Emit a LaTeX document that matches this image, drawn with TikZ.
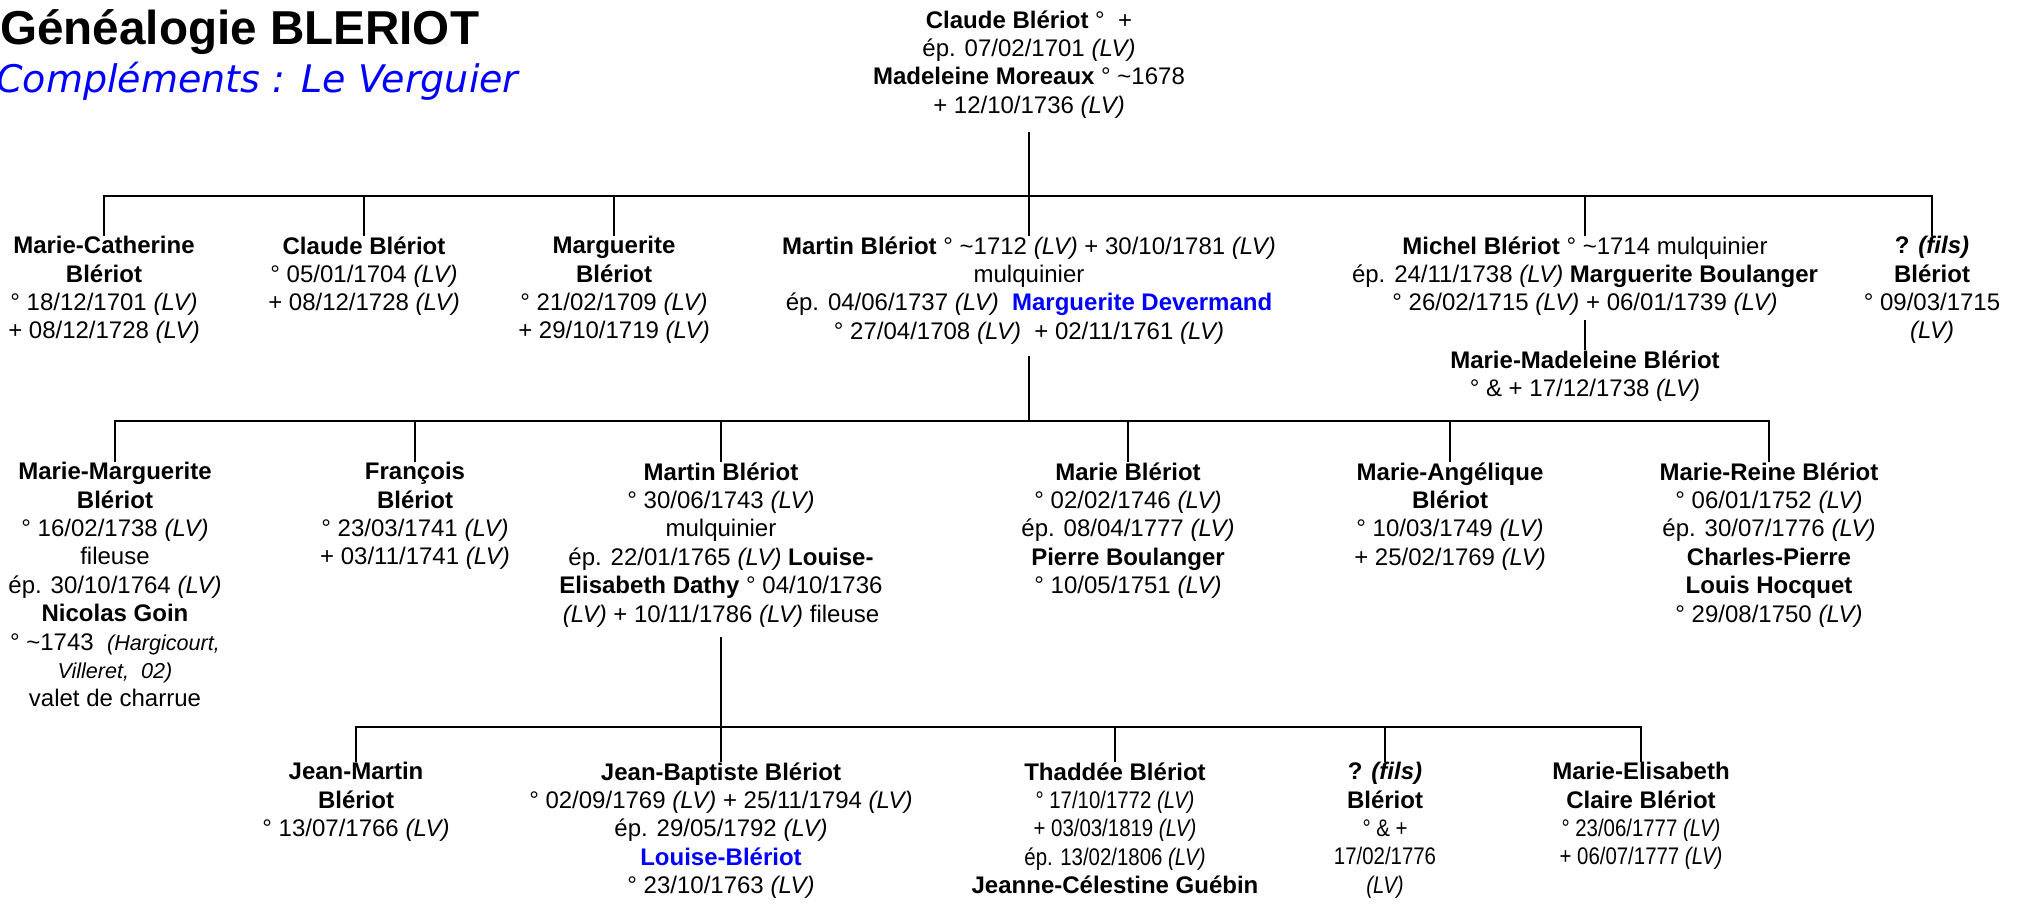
\documentclass[tikz,border=0pt]{standalone}
\usepackage{fontspec}
\usepackage{xcolor}
\usepackage{tikz}
\setmainfont{Liberation Sans}
\newfontfamily\etroitfont[FakeStretch=0.85]{Liberation Sans}
\newfontfamily\verdanafont{DejaVu Sans}
\newcommand{\nom}[1]{\textbf{\rmfamily #1}}
\newcommand{\lv}{\textit{(LV)}}

\begin{document}
\begin{tikzpicture}[x=0.5pt, y=-0.5pt,
  pers/.style={align=center, anchor=north, inner sep=0pt, font=\fontsize{12}{14.2}\selectfont,
    execute at begin node=\strut, execute at end node=\strut},
  etroit/.style={font=\fontsize{12}{14.2}\etroitfont},
  lien/.style={line width=1.4pt}]
\useasboundingbox (0,0) rectangle (2018,904);

\node[anchor=base west, inner sep=0pt, font=\fontsize{23.8}{28}\selectfont\bfseries] (titre) at (0,45) {Généalogie BLERIOT};
\node[anchor=base west, inner sep=0pt, text=blue, font=\fontsize{19}{23}\verdanafont\itshape] (soustitre) at (-4,93) {Compléments : Le Verguier};

% couple de depart
\node[pers] (claude) at (1029,10) {\nom{Claude Blériot} °\ \ +\\ ép. 07/02/1701 \lv\\ \nom{Madeleine Moreaux} ° \textasciitilde1678\\ + 12/10/1736 \lv};

% enfants
\node[pers] (mcath) at (104,236) {\nom{Marie-Catherine}\\ \nom{Blériot}\\ ° 18/12/1701 \lv\\ + 08/12/1728 \lv};
\node[pers] (claude2) at (364,236) {\nom{Claude Blériot}\\ ° 05/01/1704 \lv\\ + 08/12/1728 \lv};
\node[pers] (margu) at (614,236) {\nom{Marguerite}\\ \nom{Blériot}\\ ° 21/02/1709 \lv\\ + 29/10/1719 \lv};
\node[pers] (martin) at (1029,236) {\nom{Martin Blériot} ° \textasciitilde1712 \lv{} + 30/10/1781 \lv\\ mulquinier\\ ép. 04/06/1737 \lv\ \ \textcolor{blue}{\nom{Marguerite Devermand}}\\ ° 27/04/1708 \lv\ \ + 02/11/1761 \lv};
\node[pers] (michel) at (1585,236) {\nom{Michel Blériot} ° \textasciitilde1714 mulquinier\\ ép. 24/11/1738 \lv{} \nom{Marguerite Boulanger}\\ ° 26/02/1715 \lv{} + 06/01/1739 \lv};
\node[pers] (mmad) at (1585,350) {\nom{Marie-Madeleine Blériot}\\ ° \& + 17/12/1738 \lv};
\node[pers] (qfils) at (1932,236) {\nom{? \textit{(fils)}}\\ \nom{Blériot}\\ ° 09/03/1715\\ \lv};

% petits-enfants
\node[pers] (mmarg) at (115,462) {\nom{Marie-Marguerite}\\ \nom{Blériot}\\ ° 16/02/1738 \lv\\ fileuse\\ ép. 30/10/1764 \lv\\ \nom{Nicolas Goin}\\ ° \textasciitilde1743\ \ {\fontsize{10.8}{14.2}\selectfont\itshape (Hargicourt,}\\ {\fontsize{10.8}{14.2}\selectfont\itshape Villeret,\ \ 02)}\\ valet de charrue};
\node[pers] (franc) at (415,462) {\nom{François}\\ \nom{Blériot}\\ ° 23/03/1741 \lv\\ + 03/11/1741 \lv};
\node[pers] (martin3) at (721,462) {\nom{Martin Blériot}\\ ° 30/06/1743 \lv\\ mulquinier\\ ép. 22/01/1765 \lv{} \nom{Louise-}\\ \nom{Elisabeth Dathy} ° 04/10/1736\\ \lv{} + 10/11/1786 \lv{} fileuse};
\node[pers] (marie) at (1128,462) {\nom{Marie Blériot}\\ ° 02/02/1746 \lv\\ ép. 08/04/1777 \lv\\ \nom{Pierre Boulanger}\\ ° 10/05/1751 \lv};
\node[pers] (mange) at (1450,462) {\nom{Marie-Angélique}\\ \nom{Blériot}\\ ° 10/03/1749 \lv\\ + 25/02/1769 \lv};
\node[pers] (mreine) at (1769,462) {\nom{Marie-Reine Blériot}\\ ° 06/01/1752 \lv\\ ép. 30/07/1776 \lv\\ \nom{Charles-Pierre}\\ \nom{Louis Hocquet}\\ ° 29/08/1750 \lv};

% arriere-petits-enfants
\node[pers] (jmartin) at (356,762) {\nom{Jean-Martin}\\ \nom{Blériot}\\ ° 13/07/1766 \lv};
\node[pers] (jbapt) at (721,762) {\nom{Jean-Baptiste Blériot}\\ ° 02/09/1769 \lv{} + 25/11/1794 \lv\\ ép. 29/05/1792 \lv\\ \textcolor{blue}{\nom{Louise-Blériot}}\\ ° 23/10/1763 \lv};
\node[pers, etroit] (thad) at (1115,762) {\nom{Thaddée Blériot}\\ ° 17/10/1772 \lv\\ + 03/03/1819 \lv\\ ép. 13/02/1806 \lv\\ \nom{Jeanne-Célestine Guébin}};
\node[pers, etroit] (qfils4) at (1385,762) {\nom{? \textit{(fils)}}\\ \nom{Blériot}\\ ° \& +\\ 17/02/1776\\ \lv};
\node[pers, etroit] (melis) at (1641,762) {\nom{Marie-Elisabeth}\\ \nom{Claire Blériot}\\ ° 23/06/1777 \lv\\ + 06/07/1777 \lv};

\coordinate (b2) at (1029,196);
\coordinate (b3) at (1029,421);
\coordinate (b4) at (721,727);

\draw[lien, shorten <=5pt] (claude.south) -- (martin.north);
\draw[lien] (mcath.north) |- (b2) -| (qfils.north);
\foreach \n in {claude2, margu, michel}
  \draw[lien] (\n.north) -- (\n.north |- b2);
\draw[lien] (michel.south) -- (mmad.north);

\draw[lien, shorten <=4pt] (martin.south) -- (b3);
\draw[lien] (mmarg.north) |- (b3) -| (mreine.north);
\foreach \n in {franc, martin3, marie, mange}
  \draw[lien] (\n.north) -- (\n.north |- b3);

\draw[lien, shorten <=3pt] (martin3.south) -- (jbapt.north);
\draw[lien] (jmartin.north) |- (b4) -| (melis.north);
\foreach \n in {thad, qfils4}
  \draw[lien] (\n.north) -- (\n.north |- b4);
\end{tikzpicture}
\end{document}
